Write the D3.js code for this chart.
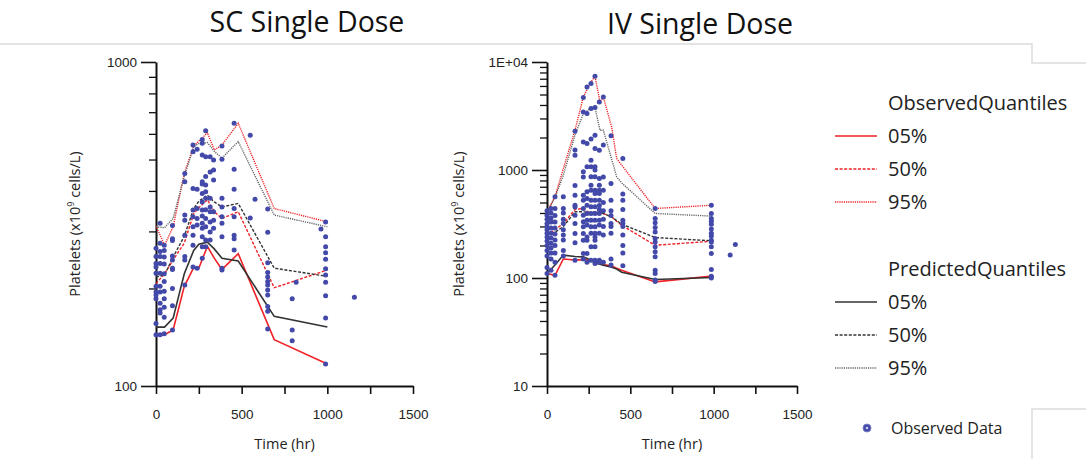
<!DOCTYPE html>
<html>
<head>
<meta charset="utf-8">
<script src="https://cdn.jsdelivr.net/npm/d3@7"></script>
<style>
  body { margin: 0; background: #fff; }
  svg { display: block; font-family: "Open Sans", "Noto Sans", sans-serif; }
</style>
</head>
<body>
<div id="chart"></div>
<script>
// ---- SC single dose: quantile lines ----
const scLineTimes = [0, 50, 100, 165, 220, 250, 300, 340, 385, 480, 690, 1000];
const scObs05  = [144, 144, 149, 203, 232, 231, 270, 248, 229, 256, 139, 117];
const scObs50  = [207, 222, 245, 276, 340, 355, 376, 345, 329, 345, 201, 228];
const scObs95  = [312, 272, 310, 453, 550, 570, 605, 535, 554, 647, 353, 321];
const scPred05 = [152, 152, 162, 222, 262, 274, 278, 265, 248, 243, 164, 152];
const scPred50 = [217, 220, 250, 290, 353, 372, 388, 370, 357, 366, 231, 218];
const scPred95 = [310, 308, 329, 443, 548, 560, 564, 530, 505, 568, 337, 310];

// SC observed data, one list of values per sampling time
const scDotTimes = [0, 24, 48, 96, 168, 216, 240, 270, 290, 316, 336, 385, 456, 550, 578, 652, 795, 818, 963, 990, 1158];
const scDotValues = [
  [266, 251, 239, 233, 223, 203, 195, 191, 186, 156, 144],
  [318, 276, 260, 251, 239, 223, 203, 195, 180, 172, 168, 144],
  [272, 262, 250, 238, 222, 210, 196, 186, 175, 163, 145],
  [313, 285, 281, 252, 245, 231, 229, 200, 177, 149],
  [453, 427, 337, 325, 292, 251, 245, 205],
  [554, 528, 407, 349, 333, 310, 292, 272, 233],
  [538, 405, 353, 329, 314, 231],
  [577, 561, 516, 427, 420, 393, 370, 349, 335, 318, 307, 289, 269, 248],
  [614, 510, 443, 417, 398, 380, 350, 329, 310, 282, 269],
  [510, 458, 380, 357, 345, 321, 299, 282],
  [498, 464, 432, 345, 325, 307],
  [550, 501, 380, 357, 333, 318, 289, 231, 228],
  [647, 467, 405, 353, 333, 292, 285, 263],
  [594, 330],
  [377],
  [352, 298, 240, 224, 217, 210, 205, 198, 191, 176, 170, 150],
  [186, 149, 138],
  [209],
  [305],
  [321, 289, 269, 258, 246, 230, 220, 209, 190, 162, 117],
  [188]
];

// ---- IV single dose ----
const ivLineTimes = [0, 48, 98, 168, 218, 258, 288, 318, 338, 388, 418, 448, 649, 989];
const ivObs05  = [110, 106, 150, 147, 148, 146, 140, 136, 133, 129, 123, 118, 92, 104];
const ivObs50  = [249, 280, 320, 431, 440, 396, 405, 410, 395, 368, 335, 308, 201, 219];
const ivObs95  = [410, 564, 1032, 2336, 4745, 6310, 7380, 4265, 4745, 2500, 1277, 1110, 440, 472];
const ivPred05 = [110, 132, 163, 158, 157, 148, 138, 134, 131, 126, 121, 113, 97, 101];
const ivPred50 = [250, 265, 300, 410, 410, 405, 410, 405, 395, 368, 340, 315, 237, 221];
const ivPred95 = [400, 560, 895, 2100, 3331, 3706, 3785, 2336, 2336, 1260, 864, 760, 396, 374];

const ivDotTimes = [0, 24, 48, 98, 168, 218, 240, 264, 288, 314, 338, 384, 455, 649, 986, 1099, 1130];
const ivDotValues = [
  [420, 380, 350, 320, 300, 280, 260, 240, 220, 200, 180, 160, 125, 110],
  [440, 400, 360, 330, 290, 260, 235, 210, 190, 170, 150, 118],
  [564, 440, 380, 330, 290, 255, 225, 200, 170, 140, 106],
  [564, 440, 400, 350, 320, 280, 250, 225, 180, 160],
  [2290, 1530, 1370, 720, 585, 471, 455, 382, 320, 258, 212, 146],
  [4680, 3450, 1820, 961, 863, 585, 526, 440, 382, 331, 298, 258, 224, 169, 150],
  [5870, 3330, 1760, 1070, 628, 545, 472, 395, 343, 309, 240, 224, 169, 140],
  [6310, 3706, 1932, 1232, 1069, 864, 723, 650, 525, 456, 396, 343, 298, 259, 195, 146],
  [7380, 3785, 2100, 1580, 1069, 1000, 864, 650, 605, 525, 456, 396, 343, 298, 259, 240, 224, 195, 146, 136],
  [4265, 1524, 834, 723, 650, 605, 525, 470, 430, 396, 343, 310, 259, 146, 140],
  [4745, 1700, 860, 650, 500, 420, 350, 300, 250, 140],
  [2080, 750, 525, 420, 380, 320, 300, 260, 150, 132],
  [1277, 600, 525, 430, 343, 320, 300, 250, 200, 170, 130],
  [440, 356, 324, 294, 267, 232, 216, 195, 175, 157, 118, 110, 96, 93],
  [472, 396, 356, 335, 315, 285, 260, 245, 224, 215, 195, 169, 120, 104, 100],
  [163],
  [204]
];

const xTicks = [0, 250, 500, 750, 1000, 1250, 1500];
const xTickLabels = ["0", "", "500", "", "1000", "", "1500"];
const legendLabels = ["05%", "50%", "95%"];

const RED = "#f02228", DARK = "#333", DOT = "#4349a8";
// style for each quantile line: [colour, dasharray]
const lineStyles = {
  obs05:  [RED, null],
  obs50:  [RED, "3,1.6"],
  obs95:  [RED, "1.2,1"],
  pred05: [DARK, null],
  pred50: [DARK, "3,1.6"],
  pred95: ["#666", "1.2,1"]
};

const W = 1086, H = 459;
const svg = d3.select("#chart").append("svg")
  .attr("width", W).attr("height", H);

// light frame lines left over from the source slide
const frame = svg.append("g").attr("stroke", "#dcdcdc").attr("stroke-width", 1.5).attr("fill", "none");
frame.append("path").attr("d", "M0,44H1032V63H1086");
frame.append("path").attr("d", "M1086,409H1032V459");

function drawPanel(opt) {
  const x = d3.scaleLinear().domain([0, 1500]).range([opt.left, opt.right]);
  const y = d3.scaleLog().domain(opt.yDomain).range([386, 62]);
  const g = svg.append("g");

  // title
  svg.append("text")
    .attr("x", opt.titleX).attr("y", opt.titleY)
    .attr("text-anchor", "middle")
    .style("font-size", "28.5px").style("fill", "#111")
    .text(opt.title);

  // y axis: minor ticks then major (labelled) ticks
  g.append("g")
    .attr("transform", "translate(" + opt.left + ",0)")
    .call(d3.axisLeft(y).tickValues(opt.yMinor).tickSize(7).tickFormat(""))
    .call(a => a.select(".domain").remove())
    .selectAll("line").attr("stroke", "#111").attr("stroke-width", 1.3);

  const yMaj = g.append("g")
    .attr("transform", "translate(" + opt.left + ",0)")
    .call(d3.axisLeft(y).tickValues(opt.yMajor).tickSize(15).tickSizeOuter(0).tickPadding(4)
      .tickFormat((d, i) => opt.yLabels[i]));
  yMaj.select(".domain").attr("stroke", "#111").attr("stroke-width", 2);
  yMaj.selectAll("line").attr("stroke", "#111").attr("stroke-width", 1.6);
  yMaj.selectAll("text").style("font-size", "13.5px").style("fill", "#222");

  // x axis
  const xAx = g.append("g")
    .attr("transform", "translate(0,386)")
    .call(d3.axisBottom(x).tickValues(xTicks).tickSize(8).tickSizeOuter(0).tickPadding(15)
      .tickFormat((d, i) => xTickLabels[i]));
  xAx.select(".domain").attr("stroke", "#111").attr("stroke-width", 2);
  xAx.selectAll("line").attr("stroke", "#111").attr("stroke-width", 1.6);
  xAx.selectAll("text").style("font-size", "13.5px").style("fill", "#222");

  // axis titles
  g.append("text")
    .attr("x", x(750)).attr("y", 449)
    .attr("text-anchor", "middle")
    .style("font-size", "14.5px").style("fill", "#222")
    .text("Time (hr)");

  const yl = g.append("text")
    .attr("transform", "translate(" + opt.yTitleX + ",224) rotate(-90)")
    .attr("text-anchor", "middle")
    .style("font-size", "14.5px").style("fill", "#222");
  yl.append("tspan").text("Platelets (x10");
  yl.append("tspan").attr("dy", -6).style("font-size", "9px").text("9");
  yl.append("tspan").attr("dy", 6).text(" cells/L)");

  // quantile lines
  const line = d3.line()
    .x(d => x(d[0]))
    .y(d => y(d[1]));
  Object.keys(opt.lines).forEach(k => {
    const vals = opt.lines[k];
    const st = lineStyles[k];
    g.append("path")
      .datum(opt.lineTimes.map((t, i) => [t, vals[i]]))
      .attr("d", line)
      .attr("fill", "none")
      .attr("stroke", st[0])
      .attr("stroke-width", st[1] ? 1.4 : 1.6)
      .attr("stroke-dasharray", st[1]);
  });

  // observed data points
  const pts = [];
  opt.dotTimes.forEach((t, i) => opt.dotValues[i].forEach(v => pts.push([t, v])));
  g.append("g").selectAll("circle")
    .data(pts)
    .enter()
    .append("circle")
    .attr("cx", d => x(d[0]))
    .attr("cy", d => y(d[1]))
    .attr("r", 2.5)
    .attr("fill", DOT);
}

drawPanel({
  title: "SC Single Dose", titleX: 307, titleY: 32,
  left: 156, right: 413, yTitleX: 80,
  yDomain: [100, 1000],
  yMajor: [100, 1000], yLabels: ["100", "1000"],
  yMinor: [200, 300, 400, 500, 600, 700, 800, 900],
  lineTimes: scLineTimes,
  lines: { obs05: scObs05, obs50: scObs50, obs95: scObs95, pred05: scPred05, pred50: scPred50, pred95: scPred95 },
  dotTimes: scDotTimes, dotValues: scDotValues
});

const ivMinor = [];
[10, 100, 1000].forEach(b => { for (let m = 2; m <= 9; m++) ivMinor.push(b * m); });

drawPanel({
  title: "IV Single Dose", titleX: 700, titleY: 34,
  left: 547, right: 797, yTitleX: 464,
  yDomain: [10, 10000],
  yMajor: [10, 100, 1000, 10000], yLabels: ["10", "100", "1000", "1E+04"],
  yMinor: ivMinor,
  lineTimes: ivLineTimes,
  lines: { obs05: ivObs05, obs50: ivObs50, obs95: ivObs95, pred05: ivPred05, pred50: ivPred50, pred95: ivPred95 },
  dotTimes: ivDotTimes, dotValues: ivDotValues
});

// legend
const leg = svg.append("g").style("fill", "#222");
function legendGroup(title, y0, keys) {
  leg.append("text").attr("x", 888).attr("y", y0 + 7)
    .style("font-size", "20px").text(title);
  keys.forEach((k, i) => {
    const yy = y0 + 33 + i * 33;
    const st = lineStyles[k];
    leg.append("line")
      .attr("x1", 835).attr("x2", 877).attr("y1", yy).attr("y2", yy)
      .attr("stroke", st[0]).attr("stroke-width", st[1] ? 1.4 : 1.6)
      .attr("stroke-dasharray", st[1]);
    leg.append("text").attr("x", 888).attr("y", yy + 7)
      .style("font-size", "20px").text(legendLabels[i]);
  });
}
legendGroup("ObservedQuantiles", 103, ["obs05", "obs50", "obs95"]);
legendGroup("PredictedQuantiles", 269, ["pred05", "pred50", "pred95"]);

leg.append("circle").attr("cx", 867).attr("cy", 428).attr("r", 4)
  .attr("fill", DOT).attr("stroke", "#7a7fc4").attr("stroke-width", 1);
leg.append("circle").attr("cx", 867).attr("cy", 428).attr("r", 1.3).attr("fill", "#c9cbeb");
leg.append("text").attr("x", 891).attr("y", 434)
  .style("font-size", "16px").text("Observed Data");
</script>
</body>
</html>
